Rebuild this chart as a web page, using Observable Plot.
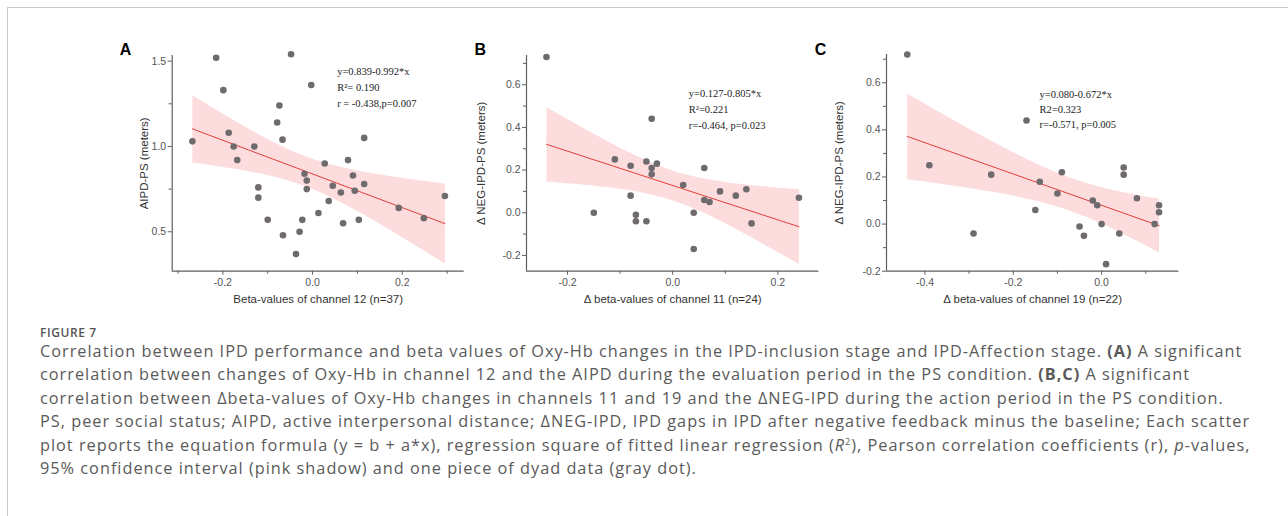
<!DOCTYPE html>
<html>
<head>
<meta charset="utf-8">
<script src="https://cdn.jsdelivr.net/npm/d3@7"></script>
<script src="https://cdn.jsdelivr.net/npm/@observablehq/plot@0.6"></script>
<style>
  html, body { margin: 0; padding: 0; background: #fff; }
  body { width: 1288px; height: 516px; overflow: hidden; position: relative; font-family: "Open Sans", sans-serif; }
  #box { position: absolute; left: 7px; top: 7px; width: 1400px; height: 700px; border-left: 1.5px solid #c9c9c9; border-top: 1.5px solid #c9c9c9; }
  .panel { position: absolute; }
  .panel svg { overflow: visible; }
  #figlabel { position: absolute; left: 40px; top: 325px; font-size: 12px; font-weight: 600; letter-spacing: 0.6px; color: #555; line-height: 16px; }
  #caption { position: absolute; left: 40px; top: 340px; font-size: 16.3px; letter-spacing: 1px; color: #5a5a5a; line-height: 23.4px; }
  #caption div { white-space: nowrap; }
</style>
</head>
<body>
<div id="box"></div>
<div id="pA" class="panel"></div>
<div id="pB" class="panel"></div>
<div id="pC" class="panel"></div>
<div id="figlabel">FIGURE 7</div>
<div id="caption">
  <div>Correlation between IPD performance and beta values of Oxy-Hb changes in the IPD-inclusion stage and IPD-Affection stage. <b>(A)</b> A significant</div>
  <div>correlation between changes of Oxy-Hb in channel 12 and the AIPD during the evaluation period in the PS condition. <b>(B,C)</b> A significant</div>
  <div>correlation between Δbeta-values of Oxy-Hb changes in channels 11 and 19 and the ΔNEG-IPD during the action period in the PS condition.</div>
  <div>PS, peer social status; AIPD, active interpersonal distance; ΔNEG-IPD, IPD gaps in IPD after negative feedback minus the baseline; Each scatter</div>
  <div>plot reports the equation formula (y = b + a*x), regression square of fitted linear regression (<i>R</i><sup style="font-size:9px;line-height:0">2</sup>), Pearson correlation coefficients (r), <i>p</i>-values,</div>
  <div>95% confidence interval (pink shadow) and one piece of dyad data (gray dot).</div>
</div>
<script>
// ---- Panel A data ----
const aX = [-0.268,-0.215,-0.199,-0.187,-0.176,-0.168,-0.130,-0.121,-0.121,-0.100,-0.079,-0.074,-0.067,-0.066,-0.048,-0.037,-0.029,-0.023,-0.018,-0.013,-0.013,-0.003,0.013,0.027,0.036,0.045,0.063,0.068,0.079,0.090,0.094,0.103,0.115,0.115,0.192,0.248,0.295];
const aY = [1.03,1.52,1.33,1.08,1.00,0.92,1.00,0.76,0.70,0.57,1.14,1.24,1.04,0.48,1.54,0.37,0.50,0.57,0.84,0.80,0.75,1.36,0.61,0.90,0.68,0.77,0.73,0.55,0.92,0.83,0.74,0.57,0.78,1.05,0.64,0.58,0.71];
const aXTicks = [-0.2, 0.0, 0.2];
const aXMinor = [-0.3, -0.1, 0.1, 0.3];
const aYTicks = [0.5, 1.0, 1.5];
const aYMinor = [0.75, 1.25];
const aXLabel = "Beta-values of channel 12 (n=37)";
const aYLabel = "AIPD-PS (meters)";
const aStats = ["y=0.839-0.992*x", "R²= 0.190", "r = -0.438,p=0.007"];

// ---- Panel B data ----
const bX = [-0.24,-0.11,-0.08,-0.05,-0.04,-0.04,-0.04,-0.03,0.06,0.02,-0.08,-0.15,-0.07,-0.07,-0.05,0.04,0.04,0.06,0.07,0.09,0.12,0.14,0.15,0.24];
const bY = [0.73,0.25,0.22,0.24,0.44,0.21,0.18,0.23,0.21,0.13,0.08,0.00,-0.01,-0.04,-0.04,0.00,-0.17,0.06,0.05,0.10,0.08,0.11,-0.05,0.07];
const bXTicks = [-0.2, 0.0, 0.2];
const bXMinor = [-0.1, 0.1];
const bYTicks = [-0.2, 0.0, 0.2, 0.4, 0.6];
const bYMinor = [-0.1, 0.1, 0.3, 0.5, 0.7];
const bXLabel = "Δ beta-values of channel 11 (n=24)";
const bYLabel = "Δ NEG-IPD-PS (meters)";
const bStats = ["y=0.127-0.805*x", "R²=0.221", "r=-0.464, p=0.023"];

// ---- Panel C data ----
const cX = [-0.44,-0.39,-0.25,-0.17,-0.14,-0.09,0.05,0.05,-0.10,-0.15,-0.29,-0.05,-0.04,-0.02,-0.01,0.00,0.01,0.04,0.08,0.12,0.13,0.13];
const cY = [0.72,0.25,0.21,0.44,0.18,0.22,0.24,0.21,0.13,0.06,-0.04,-0.01,-0.05,0.10,0.08,0.00,-0.17,-0.04,0.11,0.00,0.08,0.05];
const cXTicks = [-0.4, -0.2, 0.0];
const cXMinor = [-0.3, -0.1, 0.1];
const cYTicks = [-0.2, 0.0, 0.2, 0.4, 0.6];
const cYMinor = [-0.1, 0.1, 0.3, 0.5, 0.7];
const cXLabel = "Δ beta-values of channel 19 (n=22)";
const cYLabel = "Δ NEG-IPD-PS (meters)";
const cStats = ["y=0.080-0.672*x", "R2=0.323", "r=-0.571, p=0.005"];

const fmt = d => d.toFixed(1);
const axisColor = "#5e5e5e";

function panel(cfg) {
  const data = cfg.x.map((x, i) => ({x, y: cfg.y[i]}));
  return Plot.plot({
    width: cfg.width, height: cfg.height,
    marginLeft: cfg.ml, marginRight: cfg.mr, marginTop: cfg.mt, marginBottom: cfg.mb,
    x: {domain: cfg.xDomain},
    y: {domain: cfg.yDomain},
    style: {fontFamily: "'Liberation Sans', Arial, sans-serif", fontSize: "10.5px", color: "#555", background: "transparent", overflow: "visible"},
    marks: [
      Plot.linearRegressionY(data, {x: "x", y: "y", ci: 0.95, fill: "#fcdcdd", fillOpacity: 1, stroke: "#e2403c", strokeWidth: 1}),
      Plot.dot(data, {x: "x", y: "y", r: 3.3, fill: "#6f6a6e"}),
      Plot.ruleY([cfg.yDomain[0]], {stroke: axisColor, strokeWidth: 1.2}),
      Plot.ruleX([cfg.xDomain[0]], {stroke: axisColor, strokeWidth: 1.2}),
      Plot.axisX({ticks: cfg.xTicks, tickFormat: fmt, tickSize: 4, tickPadding: 3, label: null, stroke: axisColor}),
      Plot.axisX({ticks: cfg.xMinor, tickFormat: () => "", tickSize: 3, label: null, stroke: axisColor}),
      Plot.axisY({ticks: cfg.yTicks, tickFormat: fmt, tickSize: 4, tickPadding: 2, label: null, stroke: axisColor}),
      Plot.axisY({ticks: cfg.yMinor, tickFormat: () => "", tickSize: 3, label: null, stroke: axisColor}),
      Plot.text([cfg.xLabel], {frameAnchor: "bottom", dy: 28.5, textAnchor: "middle", lineAnchor: "middle", fontSize: 11.5, fill: "#333"}),
      Plot.text([cfg.yLabel], {frameAnchor: "left", dx: cfg.ylDx, rotate: -90, textAnchor: "middle", lineAnchor: "middle", fontSize: 11.5, fill: "#333"}),
      Plot.text([cfg.stats.join("\n")], {frameAnchor: "top-left", dx: cfg.sDx, dy: cfg.sDy, textAnchor: "start", lineAnchor: "top", lineHeight: cfg.lh, fontFamily: "'Liberation Serif', 'Times New Roman', serif", fontSize: 10.5, fill: "#222"}),
      Plot.text([cfg.letter], {frameAnchor: "top-left", dx: cfg.lDx, dy: cfg.lDy, textAnchor: "middle", lineAnchor: "middle", fontSize: 16, fontWeight: "bold", fill: "#000"})
    ]
  });
}

function place(id, left, top, node) {
  const el = document.getElementById(id);
  el.style.left = left + "px";
  el.style.top = top + "px";
  el.appendChild(node);
}

place("pA", 100, 30, panel({
  x: aX, y: aY, width: 380, height: 290, ml: 71.7, mr: 16.3, mt: 25, mb: 49.3,
  xDomain: [-0.313, 0.338], yDomain: [0.269, 1.533],
  xTicks: aXTicks, xMinor: aXMinor, yTicks: aYTicks, yMinor: aYMinor,
  xLabel: aXLabel, yLabel: aYLabel, ylDx: -28, stats: aStats, sDx: 165, sDy: 8.5, lh: 1.5,
  letter: "A", lDx: -46.7, lDy: -5.7
}));

place("pB", 460, 30, panel({
  x: bX, y: bY, width: 360, height: 290, ml: 66, mr: 1.6, mt: 25, mb: 49.3,
  xDomain: [-0.278, 0.278], yDomain: [-0.274, 0.737],
  xTicks: bXTicks, xMinor: bXMinor, yTicks: bYTicks, yMinor: bYMinor,
  xLabel: bXLabel, yLabel: bYLabel, ylDx: -45.5, stats: bStats, sDx: 162.3, sDy: 30.8, lh: 1.5,
  letter: "B", lDx: -46.3, lDy: -5.7
}));

place("pC", 820, 30, panel({
  x: cX, y: cY, width: 360, height: 290, ml: 66, mr: 1.6, mt: 24, mb: 49.3,
  xDomain: [-0.487, 0.175], yDomain: [-0.2, 0.72],
  xTicks: cXTicks, xMinor: cXMinor, yTicks: cYTicks, yMinor: cYMinor,
  xLabel: cXLabel, yLabel: cYLabel, ylDx: -47, stats: cStats, sDx: 153, sDy: 33.5, lh: 1.4,
  letter: "C", lDx: -66, lDy: -4.7
}));
</script>
</body>
</html>
